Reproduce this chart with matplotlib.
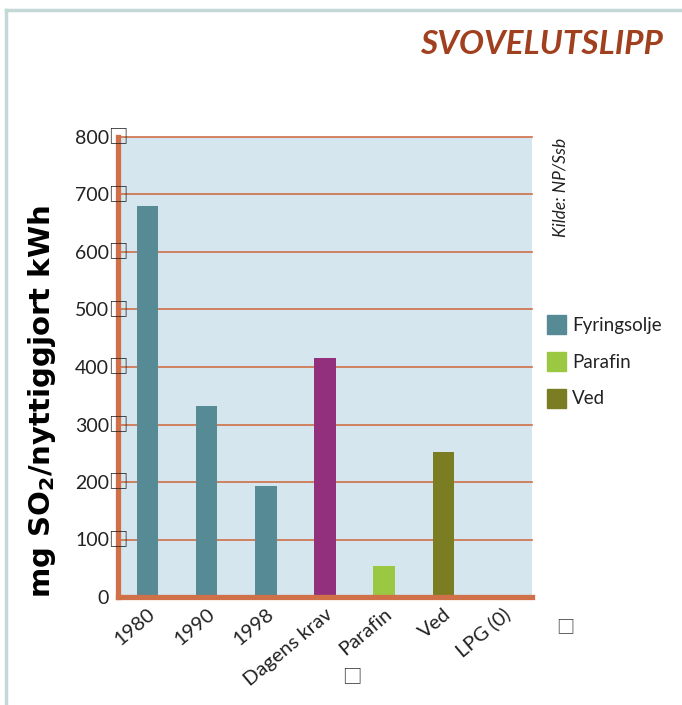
import matplotlib
matplotlib.use("Agg")
import matplotlib.pyplot as plt
from matplotlib.patches import Rectangle
from matplotlib.lines import Line2D

# data
categories = ["1980", "1990", "1998", "Dagens krav", "Parafin", "Ved", "LPG (0)"]
values = [680, 332, 193, 416, 54, 252, 0]
series = ["Fyringsolje", "Fyringsolje", "Fyringsolje", "Dagens krav", "Parafin", "Ved", "LPG"]
yticks = [0, 100, 200, 300, 400, 500, 600, 700, 800]

colors = {"Fyringsolje": "#568a94", "Dagens krav": "#93307d",
          "Parafin": "#9ac843", "Ved": "#7a7d22", "LPG": "#568a94"}
legend_items = ["Fyringsolje", "Parafin", "Ved"]

orange = "#d07048"
box = "\u25a1"
plt.rcParams['font.family'] = ['Lato', 'DejaVu Sans']

W, H = 682, 705
def fx(px):
    return px / W
def fy(py):
    return 1 - py / H

fig = plt.figure(figsize=(6.82, 7.05), dpi=100)
ax = fig.add_axes([fx(118), fy(597), 414/W, 460/H])
ax.set_facecolor("#d5e6ee")

x = list(range(len(categories)))
ax.bar(x, values, width=0.36, color=[colors[s] for s in series], zorder=2)

for v in yticks[1:]:
    ax.axhline(v, color=orange, lw=1.2, zorder=1, clip_on=False)

ax.set_xlim(-0.5, len(categories) - 0.5)
ax.set_ylim(0, 800)
ax.set_yticks(yticks)
ax.set_yticklabels([str(v) for v in yticks], fontsize=14, color="#222222")
ax.tick_params(axis='y', length=0, pad=6.5)
ax.set_xticks(x)
ax.set_xticklabels(categories, rotation=40, ha='right', rotation_mode='anchor',
                   fontsize=14.5, color="#222222")
ax.tick_params(axis='x', length=0, pad=6)

# missing-glyph boxes next to the y tick labels
for v in yticks[1:]:
    ax.text(0, v, box, transform=ax.get_yaxis_transform(), ha='center', va='center',
            fontsize=14, family='Noto Sans CJK SC', color="#222222", zorder=5, clip_on=False)

for s in ["top", "right"]:
    ax.spines[s].set_visible(False)
for s in ["left", "bottom"]:
    ax.spines[s].set_color(orange)
    ax.spines[s].set_linewidth(3.8)

fig.text(fx(42), fy(402), "mg SO$_\\mathbf{2}$/nyttiggjort kWh", rotation=90,
         ha='center', va='center', fontsize=21, fontweight='bold', family='DejaVu Sans')

# legend
for i, name in enumerate(legend_items):
    yc = 325 + i * 37
    fig.add_artist(Rectangle((fx(547), fy(yc + 9)), 19/W, 19/H, color=colors[name],
                             transform=fig.transFigure))
    fig.text(fx(572), fy(yc), name, ha='left', va='center', fontsize=13.5, color="#222222")

fig.text(fx(663), fy(45), "SVOVELUTSLIPP", ha='right', va='center', fontsize=24,
         fontweight='bold', style='italic', color="#a0401e")
fig.text(fx(560), fy(187), "Kilde: NP/Ssb", rotation=90, ha='center', va='center',
         fontsize=12.5, style='italic', color="#222222")
fig.text(fx(565), fy(627), box, ha='center', va='center', fontsize=13,
         family='Noto Sans CJK SC', color="#333333")
fig.text(fx(352), fy(677), box, ha='center', va='center', fontsize=14,
         family='Noto Sans CJK SC', color="#333333")

# frame
fig.add_artist(Line2D([fx(6), 1], [fy(10), fy(10)], color="#c5d8d8", lw=2.5))
fig.add_artist(Line2D([fx(6), fx(6)], [0, fy(10)], color="#c5d8d8", lw=2.5))

fig.savefig("out.png", dpi=100)
